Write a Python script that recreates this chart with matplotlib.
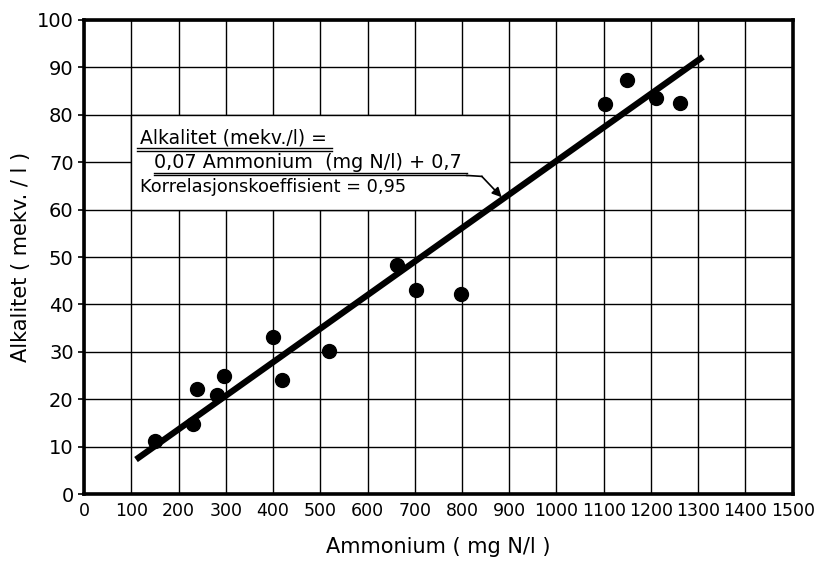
import numpy as np
import matplotlib
matplotlib.use('Agg')
import matplotlib.pyplot as plt
from matplotlib.patches import Rectangle

# data
ammonium = [150, 230, 239, 281, 296, 400, 419, 518, 662, 702, 797, 1102, 1149, 1210, 1261]
alkalitet = [11.2, 14.8, 22.2, 21.0, 25.0, 33.2, 24.0, 30.2, 48.3, 43.1, 42.1, 82.3, 87.4, 83.5, 82.5]
fit_x = [110, 1310]
fit_y = [7.3, 92.2]
xticks = list(range(0, 1501, 100))
yticks = list(range(0, 101, 10))

plt.rcParams['font.family'] = ['DejaVu Sans']

fig = plt.figure(figsize=(8.24, 5.68), dpi=100)
ax = fig.add_axes([0.102, 0.130, 0.860, 0.835])

ax.set_xlim(0, 1500)
ax.set_ylim(0, 100)
ax.set_xticks(xticks)
ax.set_yticks(yticks)
ax.grid(True, color='black', linewidth=1.0)
ax.set_axisbelow(True)
for s in ax.spines.values():
    s.set_linewidth(2.6)
ax.tick_params(axis='x', length=0, pad=6, labelsize=12.5)
ax.tick_params(axis='y', length=4, width=1.2, labelsize=14)

# white panel for the equation, hides the grid
ax.add_patch(Rectangle((100, 60), 800, 20, facecolor='white', edgecolor='black',
                       linewidth=1.0, zorder=1))

ax.plot(fit_x, fit_y, color='black', linewidth=4.5, solid_capstyle='butt', zorder=3)
ax.plot(ammonium, alkalitet, 'o', color='black', markersize=10, zorder=4)

ax.set_xlabel('Ammonium ( mg N/l )', fontsize=15, labelpad=12)
ax.set_ylabel('Alkalitet ( mekv. / l )', fontsize=15, labelpad=4)

# equation text
ax.text(118, 75.2, 'Alkalitet (mekv./l) =', fontsize=13.5, va='center', ha='left', zorder=2)
ax.text(148, 70.0, '0,07 Ammonium  (mg N/l) + 0,7', fontsize=13.8, va='center', ha='left', zorder=2)
ax.text(118, 64.7, 'Korrelasjonskoeffisient = 0,95', fontsize=12.8, va='center', ha='left', zorder=2)
for yy in (72.9, 72.3):
    ax.plot([112, 525], [yy, yy], color='black', linewidth=1.0, zorder=2)
for yy in (67.8, 67.2):
    ax.plot([148, 810], [yy, yy], color='black', linewidth=1.0, zorder=2)
ax.plot([810, 842], [67.2, 67.0], color='black', linewidth=1.2, zorder=2)
ax.annotate('', xy=(884, 62.6), xytext=(842, 67.0),
            arrowprops=dict(arrowstyle='-|>', color='black', linewidth=1.2,
                            shrinkA=0, shrinkB=0, mutation_scale=14), zorder=2)

fig.savefig('out.png', dpi=100)
